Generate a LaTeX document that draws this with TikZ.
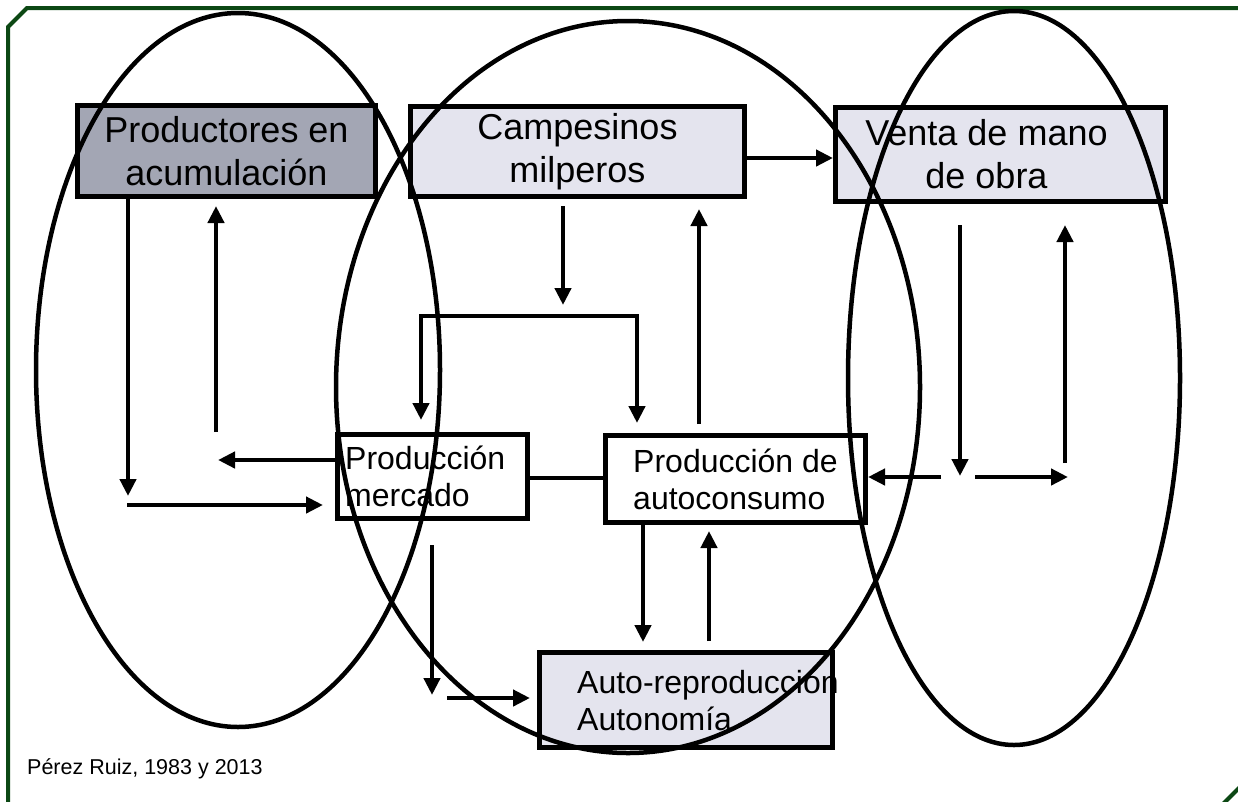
\documentclass[tikz,border=0pt]{standalone}
\usepackage{fontspec}
\setmainfont{Liberation Sans}
\usetikzlibrary{arrows.meta}
\definecolor{framegreen}{RGB}{12,72,20}
\definecolor{boxdark}{RGB}{163,166,180}
\definecolor{boxlight}{RGB}{228,228,238}
\begin{document}
\begin{tikzpicture}[x=1pt,y=-1pt,
  box/.style={draw=black, line width=5pt, rectangle, inner sep=0pt},
  txtbig/.style={inner sep=0pt, font=\fontsize{36}{43}\selectfont, align=center},
  txtsmall/.style={inner sep=0pt, font=\fontsize{32}{37}\selectfont, align=left},
  arr/.style={line width=4.5pt, -{Triangle[length=17pt,width=16pt]}},
  arrboth/.style={line width=4.5pt, {Triangle[length=17pt,width=16pt]}-{Triangle[length=17pt,width=16pt]}},
  conn/.style={line width=4.5pt},
  oval/.style={line width=4.5pt},
  frameline/.style={draw=framegreen, line width=4pt}]

\useasboundingbox (0,0) rectangle (1238,801);
\fill[white] (0,0) rectangle (1238,801);

% frame
\draw[frameline] (8,815) -- (8,27) -- (27,8) -- (1250,8);
\draw[frameline] (1216,811) -- (1250,777);

% boxes
\node[box, fill=boxdark, minimum width=298pt, minimum height=91pt] (prod) at (226.5,151) {};
\node[box, fill=boxlight, minimum width=334pt, minimum height=90pt] (camp) at (577.5,151.5) {};
\node[box, fill=boxlight, minimum width=330pt, minimum height=94pt] (venta) at (1000.5,154.5) {};
\node[box, fill=white, minimum width=190pt, minimum height=84pt] (merc) at (432.5,476.5) {};
\node[box, fill=white, minimum width=260pt, minimum height=87pt] (auto) at (735.5,479) {};
\node[box, fill=boxlight, minimum width=293pt, minimum height=95pt] (autorep) at (686,700) {};

% texts
\node[txtbig] (tprod) at (prod.center) {Productores en\\acumulación};
\node[txtbig] (tcamp) at (camp.center) {Campesinos\\milperos};
\node[txtbig] (tventa) at ([xshift=-14pt]venta.center) {Venta de mano\\de obra};
\node[txtsmall, anchor=west] (tmerc) at ([xshift=10pt]merc.west) {Producción\\mercado};
\node[txtsmall, anchor=west] (tauto) at ([xshift=30pt]auto.west) {Producción de\\autoconsumo};
\node[txtsmall, anchor=west] (tautorep) at ([xshift=40pt]autorep.west) {Auto-reproducción\\Autonomía};
\node[anchor=base west, inner sep=0pt, font=\fontsize{21.5}{25}\selectfont] (src) at (27,774) {Pérez Ruiz, 1983 y 2013};

% left arrows
\coordinate (a1e) at (128,496);
\draw[arr] (prod.south -| a1e) -- (a1e);
\coordinate (a2s) at (127,505);
\draw[arr, shorten >=12pt] (a2s) -- (a2s -| merc.west);
\coordinate (a3e) at (218,460);
\draw[arr] (a3e -| merc.west) -- (a3e);
\coordinate (a4s) at (216,432);
\draw[arr, shorten >=7pt] (a4s) -- (a4s |- prod.south);

% middle arrows
\coordinate (a5e) at (563,305);
\draw[arr, shorten <=7pt] (camp.south -| a5e) -- (a5e);
\coordinate (brl) at (421,316);
\coordinate (brr) at (637,316);
\draw[arrboth, shorten <=12pt, shorten >=10pt] (brl |- merc.north) -- (brl) -- (brr) -- (brr |- auto.north);
\coordinate (a7) at (699,300);
\draw[arr, shorten <=9pt, shorten >=10pt] (auto.north -| a7) -- (camp.south -| a7);
\coordinate (a8) at (790,158);
\draw[arr] (camp.east |- a8) -- (venta.west |- a8);
\coordinate (a9) at (560,478);
\draw[conn] (merc.east |- a9) -- (auto.west |- a9);
\coordinate (a10) at (643,600);
\draw[arr, shorten >=8pt] (auto.south -| a10) -- (autorep.north -| a10);
\coordinate (a11) at (709,600);
\draw[arr, shorten <=9pt, shorten >=6pt] (autorep.north -| a11) -- (auto.south -| a11);
\coordinate (a12s) at (432,545);
\coordinate (a12e) at (432,695);
\draw[arr] (a12s) -- (a12e);
\coordinate (a13s) at (447,698);
\draw[arr, shorten >=7pt] (a13s) -- (a13s -| autorep.west);

% right arrows
\coordinate (a14s) at (960,225);
\coordinate (a14e) at (960,476);
\draw[arr] (a14s) -- (a14e);
\coordinate (a15s) at (1065,463);
\coordinate (a15e) at (1065,225);
\draw[arr] (a15s) -- (a15e);
\coordinate (a16s) at (941,477);
\draw[arr] (a16s) -- (a16s -| auto.east);
\coordinate (a17s) at (975,477);
\coordinate (a17e) at (1068,477);
\draw[arr] (a17s) -- (a17e);

% ellipses
\draw[oval] (238,370) ellipse [x radius=202pt, y radius=357pt];
\draw[oval] (628,387) ellipse [x radius=292pt, y radius=366pt];
\draw[oval] (1014,378) ellipse [x radius=166pt, y radius=367pt];
\end{tikzpicture}
\end{document}
